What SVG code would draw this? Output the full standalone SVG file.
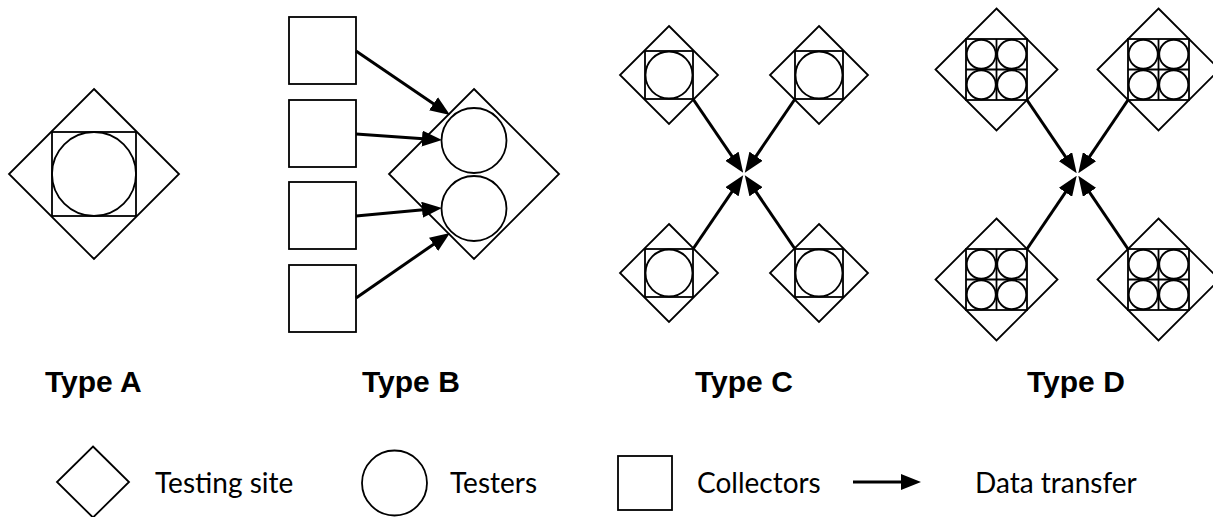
<svg xmlns="http://www.w3.org/2000/svg" xmlns:xlink="http://www.w3.org/1999/xlink" width="1213" height="517" viewBox="0 0 1213 517">
  <style>
    .shape { fill: none; stroke: #000; stroke-width: 1.8; }
    .link { fill: none; stroke: #000; stroke-width: 3; }
    .title { font-family: "Liberation Sans", Arial, sans-serif; font-weight: bold; font-size: 30px; fill: #000; }
    .legend { font-family: Lato, "Liberation Sans", sans-serif; font-size: 28px; fill: #000; }
  </style>
  <defs>
    <marker id="head" viewBox="0 0 20 16" refX="12" refY="8" markerWidth="20" markerHeight="16" markerUnits="userSpaceOnUse" orient="auto">
      <path d="M0,0 L20,8 L0,16 Z" fill="#000"/>
    </marker>
    <!-- small testing site with a single tester -->
    <g id="siteOne">
      <polygon class="shape" points="0,-49 49,0 0,49 -49,0"/>
      <rect class="shape" x="-24" y="-24" width="48" height="48"/>
      <circle class="shape" cx="0" cy="0" r="23.5"/>
    </g>
    <!-- testing site with four testers -->
    <g id="siteFour">
      <polygon class="shape" points="0,-61 61,0 0,61 -61,0"/>
      <rect class="shape" x="-30.5" y="-30.5" width="61" height="61"/>
      <line class="shape" x1="0" y1="-30.5" x2="0" y2="30.5"/>
      <line class="shape" x1="-30.5" y1="0" x2="30.5" y2="0"/>
      <circle class="shape" cx="-15.25" cy="-15.25" r="14.5"/>
      <circle class="shape" cx="15.25" cy="-15.25" r="14.5"/>
      <circle class="shape" cx="-15.25" cy="15.25" r="14.5"/>
      <circle class="shape" cx="15.25" cy="15.25" r="14.5"/>
    </g>
  </defs>

  <rect width="1213" height="517" fill="#fff"/>

  <!-- Type A -->
  <g id="typeA-site">
    <polygon class="shape" points="94,89 179,174 94,259 9,174"/>
    <rect class="shape" x="52" y="132" width="84" height="84"/>
    <circle class="shape" cx="94" cy="174" r="42"/>
  </g>

  <!-- Type B -->
  <g id="typeB-collector-1"><rect class="shape" x="289" y="17" width="67" height="67"/></g>
  <g id="typeB-collector-2"><rect class="shape" x="289" y="100" width="67" height="67"/></g>
  <g id="typeB-collector-3"><rect class="shape" x="289" y="182" width="67" height="67"/></g>
  <g id="typeB-collector-4"><rect class="shape" x="289" y="265" width="67" height="67"/></g>
  <g id="typeB-site">
    <polygon class="shape" points="474,89 559,174 474,259 389,174"/>
    <circle class="shape" cx="474" cy="140.5" r="32.5"/>
    <circle class="shape" cx="474" cy="208.5" r="32.5"/>
  </g>

  <!-- Type C -->
  <g id="typeC-site-1"><use xlink:href="#siteOne" transform="translate(669,75)"/></g>
  <g id="typeC-site-2"><use xlink:href="#siteOne" transform="translate(819,75)"/></g>
  <g id="typeC-site-3"><use xlink:href="#siteOne" transform="translate(669,273)"/></g>
  <g id="typeC-site-4"><use xlink:href="#siteOne" transform="translate(819,273)"/></g>

  <!-- Type D -->
  <g id="typeD-site-1"><use xlink:href="#siteFour" transform="translate(996.5,69.5)"/></g>
  <g id="typeD-site-2"><use xlink:href="#siteFour" transform="translate(1158.5,69.5)"/></g>
  <g id="typeD-site-3"><use xlink:href="#siteFour" transform="translate(996.5,279.5)"/></g>
  <g id="typeD-site-4"><use xlink:href="#siteFour" transform="translate(1158.5,279.5)"/></g>

  <!-- data transfer connectors -->
  <g id="connectors">
    <line class="link" x1="356" y1="51" x2="443.4" y2="110.5" marker-end="url(#head)"/>
    <line class="link" x1="356" y1="134" x2="434" y2="139.4" marker-end="url(#head)"/>
    <line class="link" x1="356" y1="216" x2="434" y2="208.7" marker-end="url(#head)"/>
    <line class="link" x1="356" y1="298" x2="443.4" y2="237.5" marker-end="url(#head)"/>

    <line class="link" x1="693" y1="99" x2="738.7" y2="166.1" marker-end="url(#head)"/>
    <line class="link" x1="795" y1="99" x2="749.3" y2="166.1" marker-end="url(#head)"/>
    <line class="link" x1="693" y1="249" x2="738.7" y2="181.9" marker-end="url(#head)"/>
    <line class="link" x1="795" y1="249" x2="749.3" y2="181.9" marker-end="url(#head)"/>

    <line class="link" x1="1027" y1="100" x2="1072.2" y2="166.6" marker-end="url(#head)"/>
    <line class="link" x1="1128" y1="100" x2="1082.8" y2="166.6" marker-end="url(#head)"/>
    <line class="link" x1="1027" y1="249" x2="1072.2" y2="182.4" marker-end="url(#head)"/>
    <line class="link" x1="1128" y1="249" x2="1082.8" y2="182.4" marker-end="url(#head)"/>
  </g>

  <!-- type captions -->
  <g id="captions">
    <text class="title" x="45" y="392">Type A</text>
    <text class="title" x="362" y="392">Type B</text>
    <text class="title" x="695" y="392">Type C</text>
    <text class="title" x="1027" y="392">Type D</text>
  </g>

  <!-- legend -->
  <g id="legend-site">
    <polygon class="shape" points="93,446.5 129,482 93,517.5 57,482"/>
    <text class="legend" x="155" y="493">Testing site</text>
  </g>
  <g id="legend-testers">
    <circle class="shape" cx="394.5" cy="483" r="32.5"/>
    <text class="legend" x="450" y="493">Testers</text>
  </g>
  <g id="legend-collectors">
    <rect class="shape" x="618" y="456" width="54" height="54"/>
    <text class="legend" x="697" y="493">Collectors</text>
  </g>
  <g id="legend-transfer">
    <line class="link" x1="853" y1="482" x2="913" y2="482" stroke-width="2.5" marker-end="url(#head)"/>
    <text class="legend" x="975" y="493">Data transfer</text>
  </g>
</svg>
